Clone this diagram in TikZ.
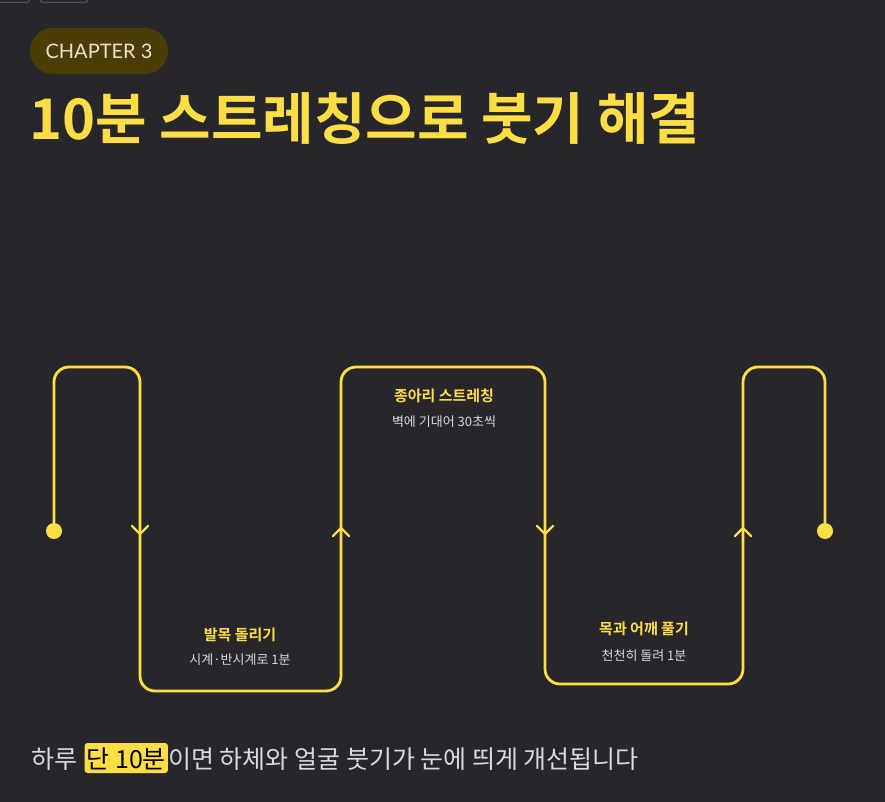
\documentclass[tikz,border=0pt]{standalone}
\usepackage{fontspec}
\setmainfont{Noto Sans CJK KR}[BoldFont={Noto Sans CJK KR Bold}]
\newfontfamily\latinfont{Lato}
\usepackage{tikz}
\usetikzlibrary{calc,positioning}
\definecolor{bgdark}{HTML}{27272B}
\definecolor{lineyellow}{HTML}{FFDD44}
\definecolor{pillfill}{HTML}{4B3D06}
\definecolor{pilltext}{HTML}{EAE3CC}
\definecolor{softgray}{HTML}{D9D9DE}
\definecolor{tabgray}{HTML}{55555C}
\tikzset{
  flow/.style={lineyellow, line width=2.8pt, rounded corners=15pt},
  chev/.style={lineyellow, line width=2.2pt, line cap=round, line join=round},
  steptitle/.style={text=lineyellow, inner sep=0, font=\bfseries\fontsize{15}{17}\selectfont},
  stepnote/.style={text=softgray, inner sep=0, font=\fontsize{13}{15}\selectfont},
  bottomline/.style={text=softgray, inner sep=0, font=\fontsize{25}{28}\selectfont},
  hilite/.style={bottomline, fill=lineyellow, text=black, rounded corners=3pt,
    inner xsep=2pt, inner ysep=0, text height=25pt, text depth=5pt},
}

\begin{document}
\begin{tikzpicture}[x=1pt,y=-1pt]
        \def\top{367}
        \def\arm{8}
        \useasboundingbox (0,0) rectangle (885,802);
        \fill[bgdark] (0,0) rectangle (885,802);
        %Tabs
        \draw[tabgray, line width=1pt, rounded corners=4pt] (-10,-20) rectangle (30,2.5);
        \draw[tabgray, line width=1pt, rounded corners=4pt] (39.5,-20) rectangle (88.5,2.5);
        %Heading
        \node[fill=pillfill, rounded corners=23pt, minimum width=138pt, minimum height=46pt,
          text=pilltext, font=\latinfont\fontsize{20}{24}\selectfont] (chap) at (99,51) {CHAPTER 3};
        \node[anchor=base west, inner sep=0, text=lineyellow, font=\bfseries\fontsize{56}{64}\selectfont]
          (title) at (29,140) {10분 스트레칭으로 붓기 해결};
        %Path
        \coordinate (start) at (54,531);
        \coordinate (finish) at (825,531);
        \draw[flow] (start) -- (54,\top) -- (140,\top) -- (140,691) -- (341,691) -- (341,\top)
          -- (545,\top) -- (545,684) -- (743,684) -- (743,\top) -- (825,\top) -- (finish);
        \fill[lineyellow] (start) circle (8pt);
        \fill[lineyellow] (finish) circle (8pt);
        %Arrows
        \draw[chev] (140-\arm,534-\arm) -- (140,534) -- (140+\arm,534-\arm);
        \draw[chev] (341-\arm,528+\arm) -- (341,528) -- (341+\arm,528+\arm);
        \draw[chev] (545-\arm,534-\arm) -- (545,534) -- (545+\arm,534-\arm);
        \draw[chev] (743-\arm,528+\arm) -- (743,528) -- (743+\arm,528+\arm);
        %Labels
        \node[steptitle] (ankle) at (240,635) {발목 돌리기};
        \node[stepnote] (ankle note) at (240,660) {시계·반시계로 1분};
        \node[steptitle] (calf) at (444,396) {종아리 스트레칭};
        \node[stepnote] (calf note) at (444,422) {벽에 기대어 30초씩};
        \node[steptitle] (neck) at (644,629) {목과 어깨 풀기};
        \node[stepnote] (neck note) at (644,656) {천천히 돌려 1분};
        %Summary
        \node[bottomline, anchor=base west] (lead) at (31,768) {하루};
        \node[hilite, anchor=base west] (hl) at ($(lead.base east)+(7,0)$) {단 10분};
        \node[bottomline, anchor=base west] (tail) at (hl.base east) {이면 하체와 얼굴 붓기가 눈에 띄게 개선됩니다};
      \end{tikzpicture}
\end{document}
